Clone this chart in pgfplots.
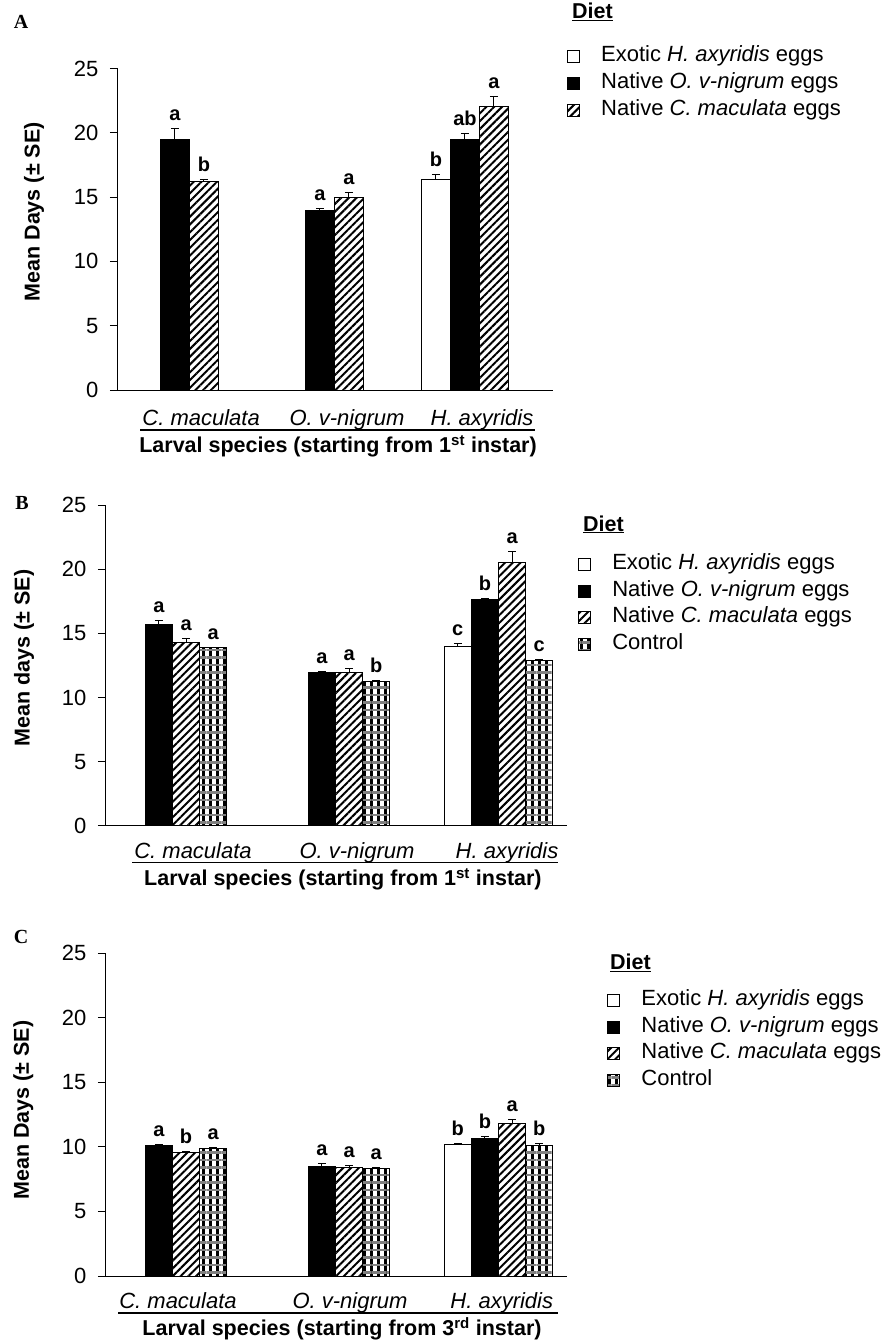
\documentclass[border=0pt]{standalone}
\usepackage{fontspec}
\setmainfont{Liberation Sans}
\newfontfamily\timesfont{Liberation Serif}
\usepackage{pgfplots}
\pgfplotsset{compat=1.18}
\usepackage{pgfplotstable}
\usetikzlibrary{patterns.meta}

\newcommand\tickfont{\fontsize{22}{26}\selectfont}
\newcommand\labfont{\fontsize{21.5}{25}\selectfont\bfseries}
\newcommand\legfont{\fontsize{22}{26}\selectfont}
\newcommand\sigfont{\fontsize{20}{24}\selectfont\bfseries}

% ---------- data: x y SE letter ----------
\pgfplotstableread{
x y e l
2 16.38 0.36 b
}\Awhite
\pgfplotstableread{
x y e l
0 19.47 0.90 a
1 13.97 0.18 a
2 19.47 0.47 ab
}\Ablack
\pgfplotstableread{
x y e l
0 16.18 0.20 b
1 15.00 0.32 a
2 22.01 0.78 a
}\Ahatch

\pgfplotstableread{
x y e l
2 13.96 0.25 c
}\Bwhite
\pgfplotstableread{
x y e l
0 15.72 0.28 a
1 11.95 0.08 a
2 17.65 0.07 b
}\Bblack
\pgfplotstableread{
x y e l
0 14.29 0.31 a
1 11.95 0.34 a
2 20.53 0.83 a
}\Bhatch
\pgfplotstableread{
x y e l
0 13.88 0.04 a
1 11.23 0.07 b
2 12.86 0.08 c
}\Bctrl

\pgfplotstableread{
x y e l
2 10.20 0.10 b
}\Cwhite
\pgfplotstableread{
x y e l
0 10.10 0.10 a
1 8.52 0.21 a
2 10.67 0.10 b
}\Cblack
\pgfplotstableread{
x y e l
0 9.58 0.10 b
1 8.42 0.15 a
2 11.80 0.34 a
}\Chatch
\pgfplotstableread{
x y e l
0 9.89 0.05 a
1 8.32 0.05 a
2 10.10 0.20 b
}\Cctrl

\pgfplotsset{
  whitebar/.style={draw=black, fill=white, line width=1pt},
  blackbar/.style={draw=black, fill=black, line width=1pt},
  hatchbar/.style={draw=black, line width=1pt, fill=white,
     postaction={pattern={Lines[angle=45,distance=5.5pt,line width=2pt]}, pattern color=black}},
  ctrlbar/.style={draw=black, line width=1pt, fill=white,
     postaction={pattern={Lines[angle=90,distance=7pt,line width=3pt]}, pattern color=black},
     postaction={pattern={Lines[angle=0,distance=7.5pt,line width=2.5pt]}, pattern color=black!50}},
  sigshift/.style={nodes near coords style={yshift=\err*#1+8pt}},
  panel/.style={
    scale only axis, axis lines=left,
    x axis line style={-, line width=1pt}, y axis line style={-, line width=1pt},
    ymin=0, ymax=25, ytick={0,5,...,25},
    tick align=outside, major tick length=7pt,
    ytick style={line width=1pt, black},
    xtick style={draw=none},
    /pgf/number format/assume math mode=true,
    yticklabel style={font=\tickfont, xshift=-8pt},
    xticklabel style={font=\legfont\itshape, anchor=base, inner sep=0pt},
    ybar, clip=false,
    legend cell align=left,
    legend image code/.code={\draw[##1, line width=1pt] (0pt,-6pt) rectangle (12pt,6pt);},
    legend style={draw=none, fill=none, inner sep=0pt, font=\legfont, anchor=north west,
      column sep=21pt, row sep=7pt,
      nodes={inner sep=0pt, text height=15pt, text depth=5pt}},
    error bars/y dir=plus, error bars/y explicit,
    error bars/error mark options={rotate=90, mark size=4pt, line width=1pt, black},
    error bars/error bar style={line width=1pt, black},
    point meta=explicit symbolic,
    visualization depends on={\thisrow{e} \as \err},
    nodes near coords,
    nodes near coords style={font=\sigfont, anchor=base, text=black, inner sep=0pt},
    every axis y label/.style={rotate=90, anchor=center, font=\labfont},
    every axis x label/.style={anchor=base, font=\labfont, inner sep=0pt},
  }
}

\begin{document}
\begin{tikzpicture}
\useasboundingbox (0pt,0pt) rectangle (887pt,-1340pt);

% ================= Panel A =================
\begin{axis}[panel, at={(117pt,-390pt)}, anchor=south west,
  width=436pt, height=321.5pt, xmin=-0.40, xmax=2.607, bar width=0.2,
  sigshift=12.86pt,
  xtick={0.18,1.186,2.117},
  xticklabels={C. maculata, O. v-nigrum, H. axyridis},
  xticklabel style={yshift=-28pt},
  ylabel={Mean Days (± SE)},
  ylabel style={at={(axis description cs:-0.19,0.554)}},
  xlabel={Larval species (starting from 1\textsuperscript{st} instar)},
  xlabel style={at={(axis description cs:0.507,-0.195)}},
  legend style={at={(axis description cs:1.032,1.068)}},
]
\addplot[whitebar, bar shift=-0.2] table[x=x,y=y,y error=e,meta=l] {\Awhite};
\addplot[blackbar, bar shift=0] table[x=x,y=y,y error=e,meta=l] {\Ablack};
\addplot[hatchbar, bar shift=0.2] table[x=x,y=y,y error=e,meta=l] {\Ahatch};
\legend{Exotic \textit{H. axyridis} eggs, Native \textit{O. v-nigrum} eggs, Native \textit{C. maculata} eggs}
\end{axis}

% ================= Panel B =================
\begin{axis}[panel, at={(105pt,-825.7pt)}, anchor=south west,
  width=462pt, height=320.7pt, xmin=-0.414, xmax=2.42, bar width=0.16667,
  sigshift=12.83pt,
  xtick={0.126,1.132,2.052},
  xticklabels={C. maculata, O. v-nigrum, H. axyridis},
  xticklabel style={yshift=-25.5pt},
  ylabel={Mean days (± SE)},
  ylabel style={at={(axis description cs:-0.175,0.523)}},
  xlabel={Larval species (starting from 1\textsuperscript{st} instar)},
  xlabel style={at={(axis description cs:0.515,-0.187)}},
  legend style={at={(axis description cs:1.024,0.845)}, row sep=6.5pt},
]
\addplot[whitebar, bar shift=-0.25] table[x=x,y=y,y error=e,meta=l] {\Bwhite};
\addplot[blackbar, bar shift=-0.08333] table[x=x,y=y,y error=e,meta=l] {\Bblack};
\addplot[hatchbar, bar shift=0.08333] table[x=x,y=y,y error=e,meta=l] {\Bhatch};
\addplot[ctrlbar, bar shift=0.25] table[x=x,y=y,y error=e,meta=l] {\Bctrl};
\legend{Exotic \textit{H. axyridis} eggs, Native \textit{O. v-nigrum} eggs, Native \textit{C. maculata} eggs, Control}
\end{axis}

% ================= Panel C =================
\begin{axis}[panel, at={(105pt,-1276pt)}, anchor=south west,
  width=462pt, height=322.7pt, xmin=-0.414, xmax=2.42, bar width=0.16667,
  sigshift=12.91pt,
  xtick={0.034,1.089,2.02},
  xticklabels={C. maculata, O. v-nigrum, H. axyridis},
  xticklabel style={yshift=-25.2pt},
  ylabel={Mean Days (± SE)},
  ylabel style={at={(axis description cs:-0.177,0.514)}},
  xlabel={Larval species (starting from 3\textsuperscript{rd} instar)},
  xlabel style={at={(axis description cs:0.513,-0.185)}},
  legend style={at={(axis description cs:1.087,0.884)}, row sep=6.5pt},
]
\addplot[whitebar, bar shift=-0.25] table[x=x,y=y,y error=e,meta=l] {\Cwhite};
\addplot[blackbar, bar shift=-0.08333] table[x=x,y=y,y error=e,meta=l] {\Cblack};
\addplot[hatchbar, bar shift=0.08333] table[x=x,y=y,y error=e,meta=l] {\Chatch};
\addplot[ctrlbar, bar shift=0.25] table[x=x,y=y,y error=e,meta=l] {\Cctrl};
\legend{Exotic \textit{H. axyridis} eggs, Native \textit{O. v-nigrum} eggs, Native \textit{C. maculata} eggs, Control}
\end{axis}

% ---------- panel letters, legend titles, category underlines ----------
\node[font=\fontsize{20}{24}\selectfont\timesfont\bfseries] at (21pt,-22pt) {A};
\node[font=\fontsize{20}{24}\selectfont\timesfont\bfseries] at (22pt,-503pt) {B};
\node[font=\fontsize{20}{24}\selectfont\timesfont\bfseries] at (21pt,-937pt) {C};

\node[anchor=base west, inner sep=0pt, font=\labfont] at (572pt,-18.7pt) {\underline{Diet}};
\node[anchor=base west, inner sep=0pt, font=\labfont] at (583pt,-531pt) {\underline{Diet}};
\node[anchor=base west, inner sep=0pt, font=\labfont] at (610pt,-969.7pt) {\underline{Diet}};

\draw[line width=1.2pt] (140pt,-430pt) -- (535pt,-430pt);
\draw[line width=1.2pt] (132pt,-862.7pt) -- (558pt,-862.7pt);
\draw[line width=1.2pt] (118pt,-1313pt) -- (558pt,-1313pt);
\end{tikzpicture}
\end{document}
